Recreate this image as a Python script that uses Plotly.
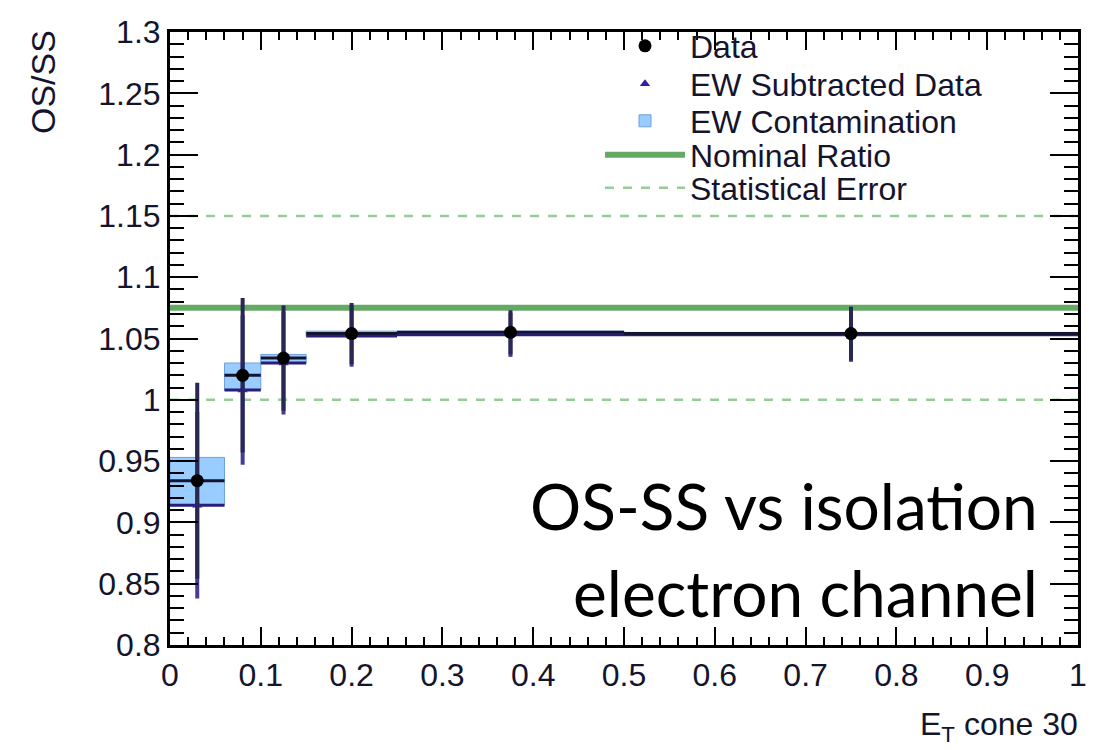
import plotly.graph_objects as go

# ---- data ----
bin_lo = [0.0, 0.06, 0.10, 0.15, 0.25, 0.50]
bin_hi = [0.06, 0.10, 0.15, 0.25, 0.50, 1.00]
centers = [0.03, 0.08, 0.125, 0.20, 0.375, 0.75]
data_y = [0.934, 1.020, 1.034, 1.054, 1.055, 1.054]
data_err = [0.080, 0.063, 0.043, 0.025, 0.018, 0.022]
ewsub_y = [0.914, 1.008, 1.030, 1.052, 1.053, 1.053]
ewsub_err = [0.076, 0.061, 0.042, 0.025, 0.018, 0.022]
ew_lo = [0.914, 1.008, 1.030, 1.052, 1.053, 1.053]
ew_hi = [0.953, 1.030, 1.037, 1.056, 1.056, 1.055]
nominal = 1.075
stat_lo = 1.0
stat_hi = 1.15

x_tickvals = [0, 0.1, 0.2, 0.3, 0.4, 0.5, 0.6, 0.7, 0.8, 0.9, 1.0]
x_ticktext = ["0", "0.1", "0.2", "0.3", "0.4", "0.5", "0.6", "0.7", "0.8", "0.9", "1"]
y_tickvals = [0.8, 0.85, 0.9, 0.95, 1.0, 1.05, 1.1, 1.15, 1.2, 1.25, 1.3]
y_ticktext = ["0.8", "0.85", "0.9", "0.95", "1", "1.05", "1.1", "1.15", "1.2", "1.25", "1.3"]

half_w = [(h - l) / 2 for l, h in zip(bin_lo, bin_hi)]
widths = [h - l for l, h in zip(bin_lo, bin_hi)]

TXT = "rgb(20,20,45)"
LF = dict(family="Liberation Sans, Arial", size=32, color=TXT)

fig = go.Figure()

# EW contamination boxes
fig.add_trace(go.Bar(
    x=centers, y=[h - l for l, h in zip(ew_lo, ew_hi)], base=ew_lo, width=widths,
    marker=dict(color="rgb(153,204,255)", line=dict(color="rgb(110,160,225)", width=1)),
    name="EW Contamination", legend="legend3",
))

# Statistical error lines
fig.add_trace(go.Scatter(
    x=[0, 1], y=[stat_hi, stat_hi], mode="lines",
    line=dict(color="rgb(150,205,150)", width=2.5, dash="dash"),
    name="Statistical Error", legend="legend5",
))
fig.add_trace(go.Scatter(
    x=[0, 1], y=[stat_lo, stat_lo], mode="lines",
    line=dict(color="rgb(150,205,150)", width=2.5, dash="dash"),
    showlegend=False,
))

# Nominal ratio
fig.add_trace(go.Scatter(
    x=[0, 1], y=[nominal, nominal], mode="lines",
    line=dict(color="rgb(100,170,100)", width=6),
    name="Nominal Ratio", legend="legend4",
))

# EW subtracted data
fig.add_trace(go.Scatter(
    x=centers, y=ewsub_y, mode="markers",
    marker=dict(symbol="triangle-up", size=9, color="rgb(50,30,170)"),
    error_y=dict(type="data", array=ewsub_err, color="rgb(70,60,150)", thickness=4, width=0),
    error_x=dict(type="data", array=half_w, color="rgb(40,30,120)", thickness=3, width=0),
    name="EW Subtracted Data", legend="legend2",
))

# Data
fig.add_trace(go.Scatter(
    x=centers, y=data_y, mode="markers",
    marker=dict(symbol="circle", size=13, color="black"),
    error_y=dict(type="data", array=data_err, color="rgb(40,40,80)", thickness=4, width=0),
    error_x=dict(type="data", array=half_w, color="rgb(20,20,50)", thickness=3, width=0),
    name="Data", legend="legend",
))


def ypos(px):
    return (645 - px) / 613


def leg(px):
    return dict(
        x=(600 - 170) / 908, y=ypos(px), xanchor="left", yanchor="middle",
        bgcolor="rgba(0,0,0,0)", borderwidth=0, font=LF, itemwidth=80,
    )


fig.update_layout(
    width=1107, height=750,
    margin=dict(l=170, r=29, t=32, b=105),
    plot_bgcolor="white", paper_bgcolor="white",
    barmode="overlay",
    showlegend=True,
    legend=leg(46), legend2=leg(84), legend3=leg(121), legend4=leg(155), legend5=leg(188),
    xaxis=dict(
        range=[0, 1], tickmode="array", tickvals=x_tickvals, ticktext=x_ticktext,
        ticks="inside", ticklen=18, tickwidth=2, tickcolor="black",
        minor=dict(ticks="inside", ticklen=8, tickwidth=2, dtick=0.02, tick0=0, tickcolor="black"),
        showline=True, linecolor="black", linewidth=3, mirror="allticks",
        showgrid=False, zeroline=False, tickfont=LF, tickangle=0,
    ),
    yaxis=dict(
        range=[0.8, 1.3], tickmode="array", tickvals=y_tickvals, ticktext=y_ticktext,
        ticks="inside", ticklen=28, tickwidth=2, tickcolor="black",
        minor=dict(ticks="inside", ticklen=14, tickwidth=2, dtick=0.01, tick0=0.8, tickcolor="black"),
        showline=True, linecolor="black", linewidth=3, mirror="allticks",
        showgrid=False, zeroline=False, tickfont=LF,
    ),
)

bigfont = dict(family="Lato, Open Sans, sans-serif", size=64, color="black")
fig.add_annotation(text="OS-SS vs isolation", xref="paper", yref="paper",
                   x=(1040 - 170) / 908, y=ypos(505), xanchor="right", yanchor="middle",
                   showarrow=False, font=bigfont)
fig.add_annotation(text="electron channel", xref="paper", yref="paper",
                   x=(1040 - 170) / 908, y=ypos(592), xanchor="right", yanchor="middle",
                   showarrow=False, font=bigfont)
fig.add_annotation(text="OS/SS", xref="paper", yref="paper",
                   x=(43 - 170) / 908, y=ypos(28), xanchor="center", yanchor="top",
                   textangle=-90, showarrow=False,
                   font=dict(family="Liberation Sans, Arial", size=34, color=TXT))
fig.add_annotation(text="E<sub>T</sub> cone 30", xref="paper", yref="paper",
                   x=(1080 - 170) / 908, y=ypos(726), xanchor="right", yanchor="middle",
                   showarrow=False,
                   font=dict(family="Liberation Sans, Arial", size=32, color=TXT))

fig.write_html("out.html")
